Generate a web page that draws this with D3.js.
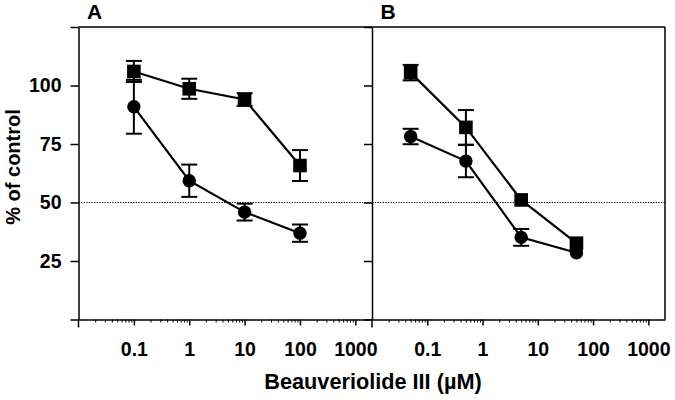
<!DOCTYPE html>
<html>
<head>
<meta charset="utf-8">
<script src="https://cdn.jsdelivr.net/npm/d3@7"></script>
<style>
  html, body { margin: 0; padding: 0; background: #fff; }
  svg { display: block; }
  text { font-family: "Liberation Sans", Arial, Helvetica, sans-serif; font-weight: bold; fill: #000; }
</style>
</head>
<body>
<svg id="chart" width="675" height="400"></svg>
<script>
// ---- data ----
const concA = [0.1, 1, 10, 100];
const concB = [0.05, 0.5, 5, 50];
const squaresA = [106, 98.6, 94, 65.8];
const squaresAErr = [4.5, 4.3, 2.7, 6.6];
const circlesA = [90.9, 59.3, 45.9, 36.9];
const circlesAErr = [11.5, 6.9, 3.6, 3.7];
const squaresB = [105.5, 82.1, 51.1, 32.6];
const squaresBErr = [3.3, 7.4, 1.2, 1];
const circlesB = [78.2, 67.7, 35.1, 28.5];
const circlesBErr = [3.3, 6.9, 3.6, 0.5];
const xTickLabels = [0.1, 1, 10, 100, 1000];
const yTickValues = [0, 25, 50, 75, 100, 125];
const yTickLabels = [25, 50, 75, 100];
const panelLabels = ["A", "B"];
const xTitle = "Beauveriolide III (µM)";
const yTitle = "% of control";
const refLine = 50;

// ---- layout ----
const svg = d3.select("#chart");
const yTopPx = 27, yBotPx = 319.5;
const symHalf = 6.8;
const panels = [
  { left: 78.5, right: 372, conc: concA, sq: squaresA, sqE: squaresAErr, ci: circlesA, ciE: circlesAErr, label: panelLabels[0], labels: true },
  { left: 372, right: 665, conc: concB, sq: squaresB, sqE: squaresBErr, ci: circlesB, ciE: circlesBErr, label: panelLabels[1], labels: false }
];
const y = d3.scaleLinear().domain([0, 125]).range([yBotPx, yTopPx]);

// reference dotted line
svg.append("line")
  .attr("x1", panels[0].left).attr("x2", panels[1].right)
  .attr("y1", y(refLine)).attr("y2", y(refLine))
  .attr("stroke", "#000").attr("stroke-width", 1.2).attr("stroke-dasharray", "1.3,1.3");

// frame top & right
svg.append("line").attr("x1", panels[0].left).attr("x2", panels[1].right)
  .attr("y1", y(125)).attr("y2", y(125)).attr("stroke", "#000").attr("stroke-width", 1.5);
svg.append("line").attr("x1", panels[1].right).attr("x2", panels[1].right)
  .attr("y1", y(125)).attr("y2", y(0)).attr("stroke", "#000").attr("stroke-width", 1.5);

const minorTicks = [];
[0.01, 0.1, 1, 10, 100].forEach(d => { for (let k = 2; k <= 9; k++) minorTicks.push(d * k); });

panels.forEach(p => {
  const x = d3.scaleLog().domain([0.01, 2000]).range([p.left, p.right]);

  // x axis: major
  const gx = svg.append("g").attr("transform", `translate(0,${yBotPx})`)
    .call(d3.axisBottom(x).tickValues(xTickLabels).tickSize(6).tickSizeOuter(0).tickPadding(17)
      .tickFormat(d3.format("~g")));
  gx.select(".domain").attr("stroke-width", 1.5);
  gx.selectAll(".tick line").attr("stroke-width", 1.5);
  gx.selectAll("text").attr("font-size", 19.5).attr("font-family", null);
  // x axis: minor
  const gm = svg.append("g").attr("transform", `translate(0,${yBotPx})`)
    .call(d3.axisBottom(x).tickValues(minorTicks).tickSize(3).tickFormat(""));
  gm.select(".domain").remove();
  gm.selectAll(".tick line").attr("stroke-width", 1);

  // y axis
  const gy = svg.append("g").attr("transform", `translate(${p.left},0)`)
    .call(d3.axisLeft(y).tickValues(yTickValues).tickSize(8).tickSizeOuter(0).tickPadding(9)
      .tickFormat(d => (p.labels && yTickLabels.includes(d)) ? d : ""));
  gy.select(".domain").attr("stroke-width", 1.5);
  gy.selectAll(".tick line").attr("stroke-width", 1.5);
  gy.selectAll("text").attr("font-size", 19.5).attr("font-family", null);
  // y axis extension below (tick at 0.01)
  svg.append("line").attr("x1", p.left).attr("x2", p.left)
    .attr("y1", yBotPx).attr("y2", yBotPx + 8).attr("stroke", "#000").attr("stroke-width", 1.5);

  // panel label
  svg.append("text").attr("x", p.left + 8.5).attr("y", 18.5)
    .attr("font-size", 21).text(p.label);

  const series = [
    { vals: p.ci, err: p.ciE, shape: "circle" },
    { vals: p.sq, err: p.sqE, shape: "square" }
  ];
  const line = d3.line().x(d => x(d[0])).y(d => y(d[1]));
  series.forEach(s => {
    const pts = p.conc.map((c, i) => [c, s.vals[i], s.err[i]]);
    svg.append("path").datum(pts).attr("d", line)
      .attr("fill", "none").attr("stroke", "#000").attr("stroke-width", 2.2);
    const eg = svg.append("g");
    pts.forEach(d => {
      const cx = x(d[0]);
      const yt = y(d[1] + d[2]), yb = y(d[1] - d[2]);
      if (yb - y(d[1]) > symHalf - 0.5) {
        eg.append("line").attr("x1", cx).attr("x2", cx).attr("y1", yt).attr("y2", yb)
          .attr("stroke", "#000").attr("stroke-width", 2);
        [yt, yb].forEach(yy => eg.append("line").attr("x1", cx - 8).attr("x2", cx + 8)
          .attr("y1", yy).attr("y2", yy).attr("stroke", "#000").attr("stroke-width", 2));
      }
      if (s.shape === "circle") {
        eg.append("circle").attr("cx", cx).attr("cy", y(d[1])).attr("r", 6.7).attr("fill", "#000");
      } else {
        eg.append("rect").attr("x", cx - symHalf).attr("y", y(d[1]) - symHalf)
          .attr("width", symHalf * 2).attr("height", symHalf * 2).attr("fill", "#000");
      }
    });
  });
});

// axis titles
svg.append("text").attr("x", 373).attr("y", 389).attr("text-anchor", "middle")
  .attr("font-size", 21.7).text(xTitle);
svg.append("text").attr("transform", "translate(19.5,167) rotate(-90)").attr("text-anchor", "middle")
  .attr("font-size", 20).text(yTitle);
</script>
</body>
</html>
